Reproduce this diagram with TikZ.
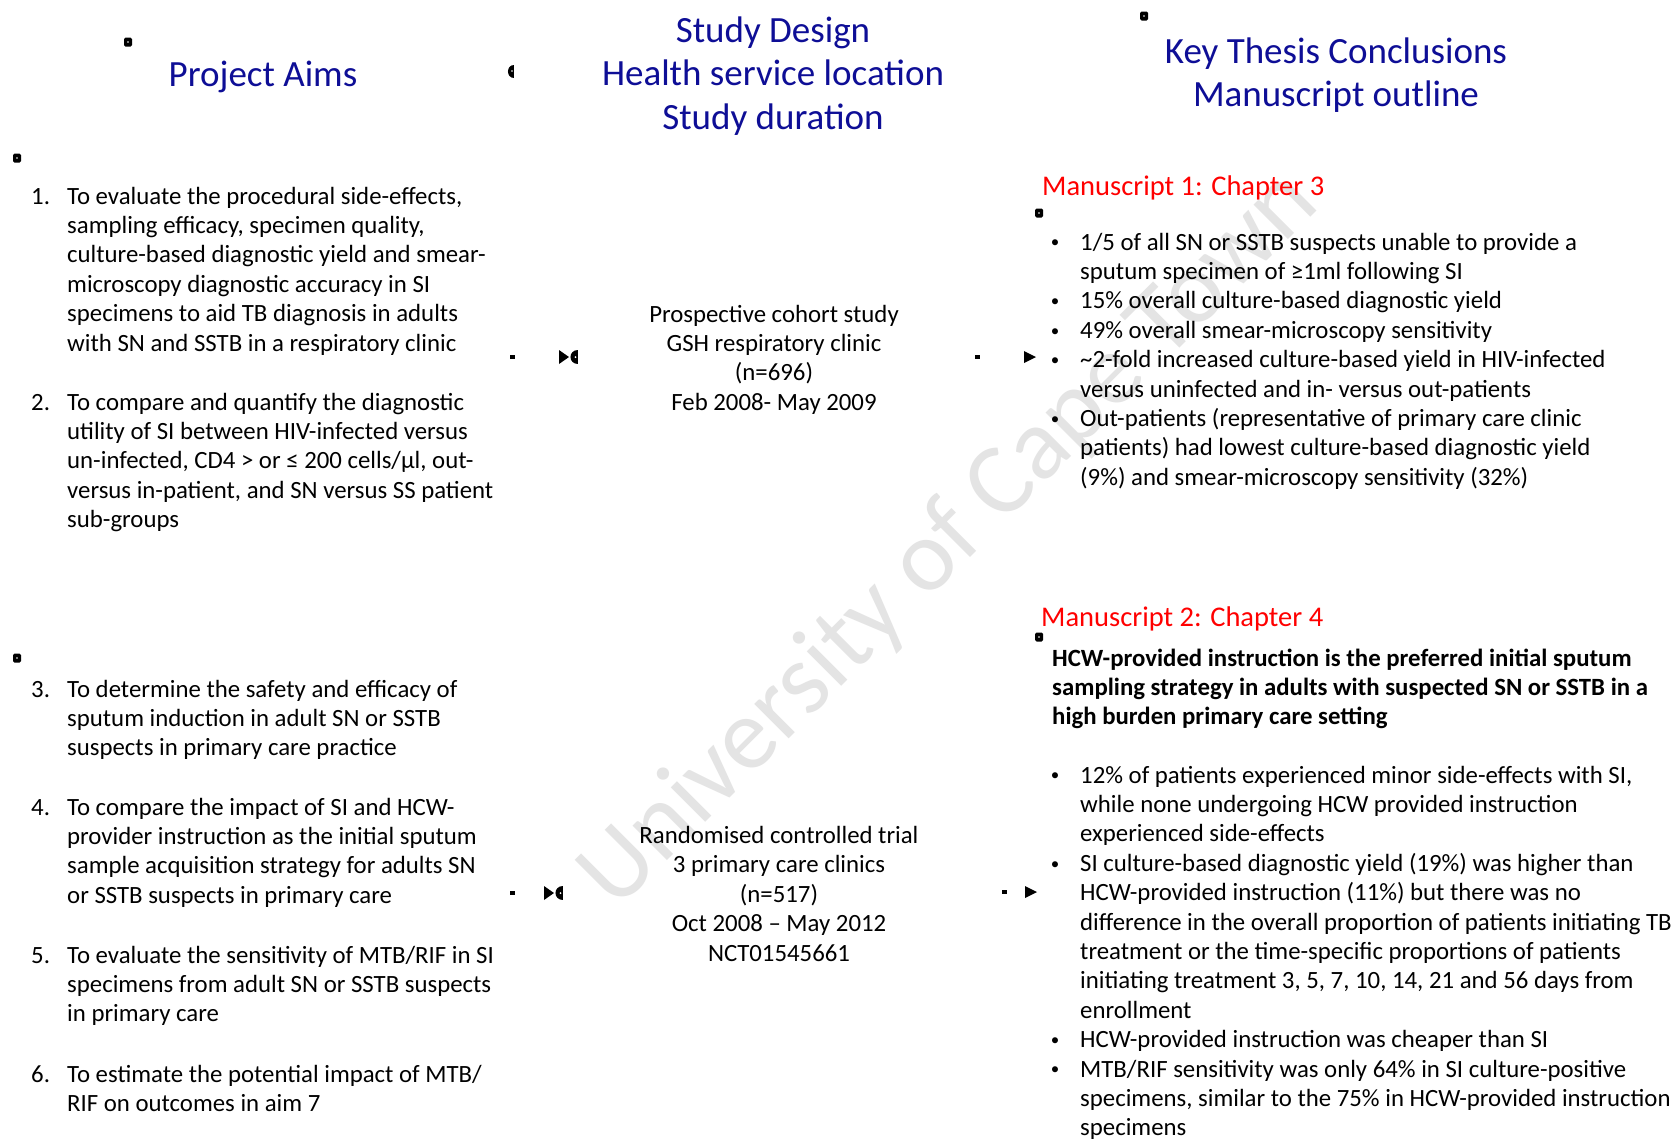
\documentclass[tikz,border=0pt]{standalone}
\usepackage{fontspec}
\setmainfont{Carlito}
\definecolor{ttlblue}{RGB}{14,14,150}
\definecolor{wmgray}{RGB}{228,228,228}
\newcommand\bodyfs{\fontsize{24.8}{29.4}\selectfont}
\newcommand\ttlfs{\fontsize{37}{43.5}\selectfont}
\newcommand\msfs{\fontsize{28.5}{34}\selectfont}
\newcommand\llines[1]{\begin{tabular}[t]{@{}l@{}}#1\end{tabular}}
\newcommand\clines[1]{\begin{tabular}[t]{@{}c@{}}#1\end{tabular}}
\newcommand\bul{\raisebox{2.2pt}{\fontsize{17}{20}\selectfont •}}
\tikzset{
  body/.style={font=\bodyfs, inner sep=0pt, anchor=base west},
  mid/.style={font=\bodyfs, inner sep=0pt, anchor=base},
  numlab/.style={font=\bodyfs, inner sep=0pt, anchor=base west},
  bulnode/.style={font=\bodyfs, inner sep=0pt, anchor=base},
  ttl/.style={font=\ttlfs, text=ttlblue, inner sep=0pt, anchor=base},
  mshead/.style={font=\msfs, text=red, inner sep=0pt, anchor=base west},
  pics/handle/.style={code={\fill[rounded corners=1.5pt] (-4,-4.5) rectangle (4,4.5); \fill[white] (0,0) circle (0.9);}},
  pics/bowtie/.style={code={\fill (-10,-7) -- (-10,7) -- (0,0) -- cycle; \fill (9,-7) .. controls (-1,-7) and (-1,7) .. (9,7) -- cycle; \fill[white] (6.5,0) circle (1);}},
  pics/tri/.style={code={\fill (-12,-6) -- (-12,6) -- (0,0) -- cycle;}},
  pics/tickmark/.style={code={\fill (-2.5,-2) rectangle (2.5,2);}},
  pics/halfd/.style={code={\fill (3,-6.5) .. controls (-5,-6.5) and (-5,6.5) .. (3,6.5) -- cycle; \fill[white] (1,0) circle (0.9);}}
}
\begin{document}
\begin{tikzpicture}[x=1pt,y=-1pt]
\useasboundingbox (0,0) rectangle (1671,1141);
\fill[white] (0,0) rectangle (1671,1141);

% watermark
\node[rotate=45, font=\fontsize{102}{120}\selectfont, text=wmgray, inner sep=0pt] (wm) at (950,540) {University of Cape Town};

% titles
\node[ttl] (t1) at (263,86) {Project Aims};
\node[ttl] (t2) at (773,42) {\clines{Study Design\\Health service location\\Study duration}};
\node[ttl] (t3) at (1336,63) {\clines{Key Thesis Conclusions\\Manuscript outline}};

% handles
\pic at (128,42) {handle};
\pic at (17,158) {handle};
\pic at (17,658) {handle};
\pic at (1144,16) {handle};
\pic at (1039,213) {handle};
\pic at (1039,637) {handle};
\pic at (511,71) {halfd};

% left column: aims
\node[numlab] (n1) at (31,204) {1.};
\node[body] (a1) at (67,204) {\llines{To evaluate the procedural side-effects,\\sampling efficacy, specimen quality,\\culture-based diagnostic yield and smear-\\microscopy diagnostic accuracy in SI\\specimens to aid TB diagnosis in adults\\with SN and SSTB in a respiratory clinic}};
\node[numlab] (n2) at (31,410) {2.};
\node[body] (a2) at (67,410) {\llines{To compare and quantify the diagnostic\\utility of SI between HIV-infected versus\\un-infected, CD4 > or ≤ 200 cells/µl, out-\\versus in-patient, and SN versus SS patient\\sub-groups}};
\node[numlab] (n3) at (31,697) {3.};
\node[body] (a3) at (67,697) {\llines{To determine the safety and efficacy of\\sputum induction in adult SN or SSTB\\suspects in primary care practice}};
\node[numlab] (n4) at (31,815) {4.};
\node[body] (a4) at (67,815) {\llines{To compare the impact of SI and HCW-\\provider instruction as the initial sputum\\sample acquisition strategy for adults SN\\or SSTB suspects in primary care}};
\node[numlab] (n5) at (31,963) {5.};
\node[body] (a5) at (67,963) {\llines{To evaluate the sensitivity of MTB/RIF in SI\\specimens from adult SN or SSTB suspects\\in primary care}};
\node[numlab] (n6) at (31,1082) {6.};
\node[body] (a6) at (67,1082) {\llines{To estimate the potential impact of MTB/\\RIF on outcomes in aim 7}};

% middle column
\node[mid] (s1) at (774,322) {\clines{Prospective cohort study\\GSH respiratory clinic\\(n=696)\\Feb 2008- May 2009}};
\node[mid] (s2) at (779,843.5) {\clines{Randomised controlled trial\\3 primary care clinics\\(n=517)\\Oct 2008 – May 2012\\NCT01545661}};

% connector marks
\pic at (512,357) {tickmark};
\pic at (569,357) {bowtie};
\pic at (977,357) {tickmark};
\pic at (1036,357) {tri};
\pic at (512,893) {tickmark};
\pic at (554,893) {bowtie};
\pic at (1004,892) {tickmark};
\pic at (1037,892) {tri};

% right column: manuscript 1
\node[mshead] (m1) at (1042,195) {Manuscript 1: Chapter 3};
\node[bulnode] (b11) at (1055,250) {\bul};
\node[body] (c11) at (1080,250) {\llines{1/5 of all SN or SSTB suspects unable to provide a\\sputum specimen of ≥1ml following SI}};
\node[bulnode] (b12) at (1055,308.8) {\bul};
\node[body] (c12) at (1080,308.8) {15\% overall culture-based diagnostic yield};
\node[bulnode] (b13) at (1055,338.2) {\bul};
\node[body] (c13) at (1080,338.2) {49\% overall smear-microscopy sensitivity};
\node[bulnode] (b14) at (1055,367.6) {\bul};
\node[body] (c14) at (1080,367.6) {\llines{\textasciitilde 2-fold increased culture-based yield in HIV-infected\\versus uninfected and in- versus out-patients}};
\node[bulnode] (b15) at (1055,426.4) {\bul};
\node[body] (c15) at (1080,426.4) {\llines{Out-patients (representative of primary care clinic\\patients) had lowest culture-based diagnostic yield\\(9\%) and smear-microscopy sensitivity (32\%)}};

% right column: manuscript 2
\node[mshead] (m2) at (1041,626) {Manuscript 2: Chapter 4};
\node[body, font=\bodyfs\bfseries] (k2) at (1052,666) {\llines{HCW-provided instruction is the preferred initial sputum\\sampling strategy in adults with suspected SN or SSTB in a\\high burden primary care setting}};
\node[bulnode] (b21) at (1055,783) {\bul};
\node[body] (c21) at (1080,783) {\llines{12\% of patients experienced minor side-effects with SI,\\while none undergoing HCW provided instruction\\experienced side-effects}};
\node[bulnode] (b22) at (1055,871.2) {\bul};
\node[body] (c22) at (1080,871.2) {\llines{SI culture-based diagnostic yield (19\%) was higher than\\HCW-provided instruction (11\%) but there was no\\difference in the overall proportion of patients initiating TB\\treatment or the time-specific proportions of patients\\initiating treatment 3, 5, 7, 10, 14, 21 and 56 days from\\enrollment}};
\node[bulnode] (b23) at (1055,1047.6) {\bul};
\node[body] (c23) at (1080,1047.6) {HCW-provided instruction was cheaper than SI};
\node[bulnode] (b24) at (1055,1077) {\bul};
\node[body] (c24) at (1080,1077) {\llines{MTB/RIF sensitivity was only 64\% in SI culture-positive\\specimens, similar to the 75\% in HCW-provided instruction\\specimens}};
\end{tikzpicture}
\end{document}
